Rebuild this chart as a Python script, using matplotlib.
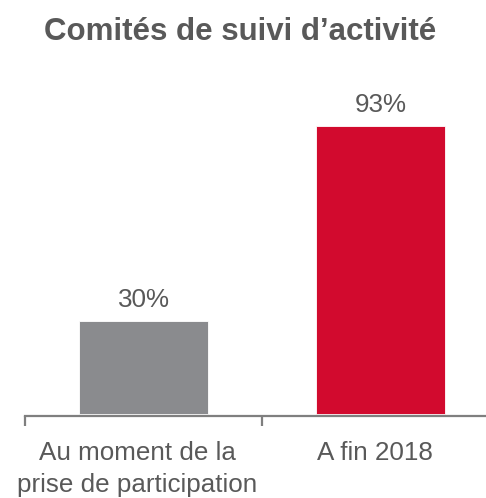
import matplotlib.pyplot as plt
from matplotlib.ticker import FixedLocator
from matplotlib.transforms import ScaledTranslation

categories = ["Au moment de la\nprise de participation", "A fin 2018"]
values = [30, 93]
colors = ["#8a8b8e", "#d20a2e"]
title = "Comités de suivi d\u2019activité"

plt.rcParams['font.family'] = ['Liberation Sans', 'DejaVu Sans']
text_color = "#595959"

fig = plt.figure(figsize=(4.86, 4.98), dpi=100)
# axes runs past the right edge, like the original
ax = fig.add_axes([25 / 486, 82 / 498, 474 / 486, 312 / 498])

x = range(len(categories))
bars = ax.bar(x, values, width=0.545, color=colors, edgecolor="white", linewidth=0.6)
ax.set_xlim(-0.5, len(categories) - 0.5)
ax.set_ylim(-0.8, 100)

for bar, v in zip(bars, values):
    ax.annotate(f"{v}%", (bar.get_x() + bar.get_width() / 2, bar.get_height()),
                xytext=(0, 6), textcoords="offset points", ha="center", va="bottom",
                fontsize=18.7, color=text_color)

for side in ["top", "right", "left"]:
    ax.spines[side].set_visible(False)
ax.spines["bottom"].set_color("#7f7f7f")
ax.spines["bottom"].set_linewidth(1.6)
ax.set_yticks([])

ax.set_xticks(list(x))
ax.set_xticklabels(categories, fontsize=18.7, color=text_color, linespacing=1.42)
ax.tick_params(axis="x", which="major", length=0, pad=18)
# labels sit a little left of the bar centres in the original
shift = ScaledTranslation(-6 / 100, 0, fig.dpi_scale_trans)
for lbl in ax.get_xticklabels():
    lbl.set_transform(lbl.get_transform() + shift)
ax.xaxis.set_minor_locator(FixedLocator([i - 0.5 for i in range(len(categories) + 1)]))
ax.tick_params(axis="x", which="minor", length=7, width=1.6, color="#7f7f7f")

fig.text(240 / 486, 1 - 32 / 498, title, ha="center", va="center",
         fontsize=22.5, fontweight="bold", color=text_color)

fig.savefig("out.png", dpi=100)
